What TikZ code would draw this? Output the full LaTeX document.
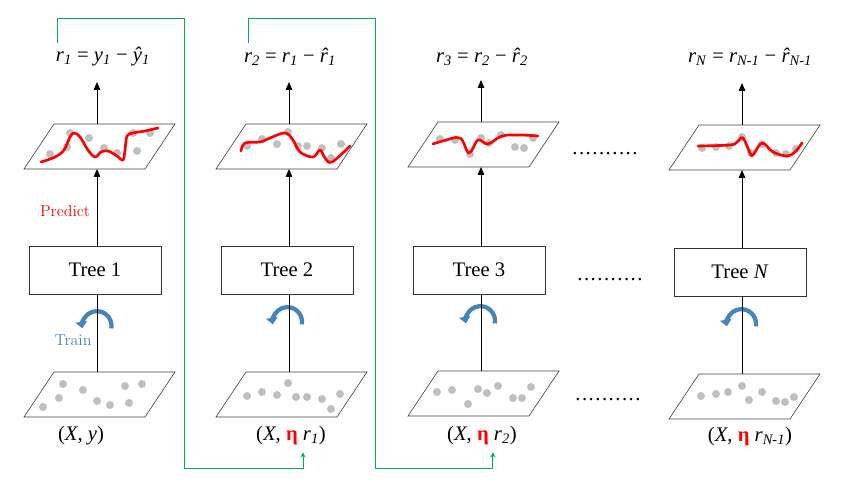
\documentclass[tikz,border=0pt]{standalone}
\usepackage{fontspec}
\newfontfamily\tnr{Liberation Serif}
\usetikzlibrary{arrows.meta,positioning}
\definecolor{loopgreen}{RGB}{0,176,80}
\definecolor{fitred}{RGB}{255,0,0}
\definecolor{ptgray}{RGB}{191,191,191}
\definecolor{trainblue}{RGB}{70,132,192}
\newcommand{\sbs}[1]{\textsubscript{\textit{#1}}}
\newcommand{\rhat}{\textit{\accent"02C6 r}}
\newcommand{\dotrow}{\hbox to 50pt{\xleaders\hbox to 5pt{\hss.\hss}\hfill}}
\tikzset{
  txt/.style={font=\tnr\fontsize{15.5}{18}\selectfont, inner sep=0pt},
  plane/.style={draw=black!75, line width=0.5pt, fill=white},
  pt/.style={fill=ptgray},
  fit/.style={draw=fitred, line width=2pt, line cap=round, line join=round},
  tree/.style={draw=black!80, line width=0.6pt, fill=white, minimum width=99pt,
    minimum height=36pt, font=\tnr\fontsize{15.5}{18}\selectfont},
  up/.style={-{Triangle[length=6pt,width=5pt]}, line width=0.6pt},
  loopline/.style={loopgreen, line width=0.7pt, -{Stealth[length=4pt,width=4pt]}},
  trainarc/.style={trainblue, line width=3.2pt, -{Triangle[length=5pt,width=8.5pt]}}
}
\begin{document}
\begin{tikzpicture}[x=0.75pt, y=-0.75pt]
  \useasboundingbox (0,0) rectangle (851,491);
  % planes: upper (p) and lower (q)
  \foreach \x/\y/\n in {24/124/p1, 216/124/p2, 408/122/p3, 669/125/p4,
                        24/372/q1, 216/372/q2, 408/371/q3, 669/374/q4} {
    \draw[plane] (\x+30,\y) -- (\x+151,\y) -- (\x+121,\y+45) -- (\x,\y+45) -- cycle;
    \coordinate (\n t) at (\x+73,\y);
    \coordinate (\n b) at (\x+73,\y+45);
  }
  % data points
  \foreach \p in {(50,154),(70,133),(67,147),(89,138),(104,148),(117,153),(133,133),(150,133),(137,151),
                  (247,146),(262,139),(277,144),(288,132),(298,146),(307,146),(322,148),(331,158),(341,144),
                  (440,139),(455,140),(470,154),(481,138),(489,143),(501,135),(515,147),(524,148),(533,138),
                  (702,148),(716,147),(729,146),(742,137),(751,153),(762,144),(776,153),(786,154),(796,149),
                  (63,384),(83,390),(59,398),(43,407),(97,401),(110,405),(125,386),(142,384),(129,403),
                  (247,396),(262,392),(277,395),(288,383),(296,397),(307,397),(322,399),(331,409),(340,394),
                  (437,392),(452,390),(468,404),(478,389),(487,393),(498,386),(513,398),(522,398),(531,387),
                  (701,396),(716,394),(728,392),(742,386),(749,400),(762,392),(776,401),(785,402),(794,397)}
    \fill[pt] \p circle[radius=3pt];
  % fitted curves
  \draw[fit] plot[smooth, tension=0.6] coordinates {(41,162) (55,157) (64,150) (70,137) (74,133) (80,137)
    (88,150) (95,157) (101,152) (108,151) (117,156) (123,160) (125,150) (127,136) (133,133) (145,131) (158,128)};
  \draw[fit] plot[smooth, tension=0.6] coordinates {(241,151) (245,143) (260,142) (270,138) (285,133) (293,140)
    (300,152) (313,157) (320,150) (325,158) (332,162) (350,146)};
  \draw[fit] plot[smooth, tension=0.6] coordinates {(433,144) (443,141) (460,138) (469,153) (478,140) (488,144)
    (502,136) (520,135) (538,136)};
  \draw[fit] plot[smooth, tension=0.6] coordinates {(698,146) (730,145) (737,142) (743,138) (750,153) (753,155)
    (762,143) (773,152) (787,156) (795,152) (802,143)};

  % trees
  \node[tree] (t1) at (95,270) {Tree 1};
  \node[tree] (t2) at (287,270) {Tree 2};
  \node[tree] (t3) at (479,270) {Tree 3};
  \node[tree] (t4) at (740,272) {Tree \textit{N}};

  % residuals
  \node[txt] (eq1) at (103,57) {\textit{r}\sbs{1} = \textit{y}\sbs{1} − \textit{ŷ}\sbs{1}};
  \node[txt] (eq2) at (290,57) {\textit{r}\sbs{2} = \textit{r}\sbs{1} − \rhat\sbs{1}};
  \node[txt] (eq3) at (482,57) {\textit{r}\sbs{3} = \textit{r}\sbs{2} − \rhat\sbs{2}};
  \node[txt] (eq4) at (750,57) {\textit{r}\sbs{N} = \textit{r}\sbs{N-1} − \rhat\sbs{N-1}};

  % training sets
  \node[txt] (b1) at (81,436) {(\textit{X}, \textit{y})};
  \node[txt] (b2) at (291,436) {(\textit{X}, {\color{fitred}\bfseries η} \textit{r}\sbs{1})};
  \node[txt] (b3) at (482,436) {(\textit{X}, {\color{fitred}\bfseries η} \textit{r}\sbs{2})};
  \node[txt] (b4) at (750,437) {(\textit{X}, {\color{fitred}\bfseries η} \textit{r}\sbs{N-1})};

  \node[txt] (d1) at (605,154) {\dotrow};
  \node[txt] (d2) at (610,280) {\dotrow};
  \node[txt] (d3) at (608,400) {\dotrow};

  \node[text=fitred, font=\fontsize{12}{14}\selectfont, inner sep=0pt] (pred) at (65,211) {Predict};
  \node[text=trainblue, font=\fontsize{12}{14}\selectfont, inner sep=0pt] (train) at (73,340) {Train};

  % train arrows
  \draw[trainarc] (111.3,328.4) arc[start angle=-10, end angle=190, radius=11pt];
  \draw[trainarc] (301.8,324.4) arc[start angle=-10, end angle=190, radius=11pt];
  \draw[trainarc] (494.8,323.4) arc[start angle=-10, end angle=190, radius=11pt];
  \draw[trainarc] (755.8,326.4) arc[start angle=-10, end angle=190, radius=11pt];

  % flow
  \foreach \i in {1,2,3,4} {
    \draw[line width=0.6pt] (q\i t) -- (q\i t |- t\i.south);
    \draw[up] (t\i.north -| p\i b) -- (p\i b);
    \draw[up] (p\i t) -- ++(0,-42);
  }

  % residual feedback
  \coordinate (g1) at (57,43);
  \coordinate (g2) at (248,43);
  \draw[loopline] (g1) |- (184,18) -- (184,468) -| ([xshift=9pt,yshift=-5pt]b2.south);
  \draw[loopline] (g2) |- (375,18) -- (375,468) -| ([xshift=8.2pt,yshift=-5pt]b3.south);
\end{tikzpicture}
\end{document}
